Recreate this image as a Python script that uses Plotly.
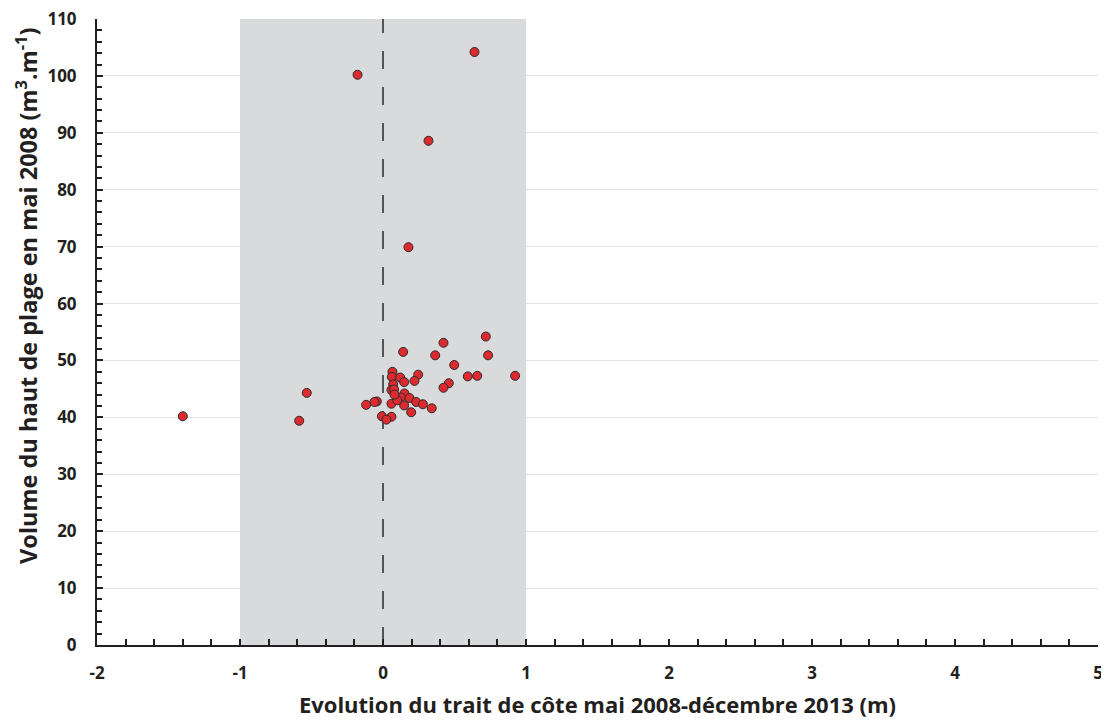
import plotly.graph_objects as go

# évolution du trait de côte (m) et volume du haut de plage (m3/m)
evolution = [
    -1.40, -0.586, -0.533, -0.178, 0.64, 0.318, 0.178,
    0.719, 0.423, 0.141, 0.365, 0.735, 0.498, 0.066, 0.062, 0.120, 0.246,
    0.220, 0.148, 0.593, 0.659, 0.924, 0.071, 0.460, 0.423, 0.059, 0.078,
    0.150, 0.125, 0.185, 0.232, 0.279, 0.341, 0.148, 0.197, 0.059, -0.043,
    -0.060, -0.118, -0.008, 0.059, 0.024, 0.100, 0.080,
]
volume = [
    40.2, 39.4, 44.3, 100.2, 104.2, 88.6, 69.9,
    54.2, 53.1, 51.5, 50.9, 50.9, 49.2, 48.0, 47.1, 47.0, 47.5,
    46.4, 46.2, 47.2, 47.3, 47.3, 45.8, 46.0, 45.2, 44.8, 44.9,
    44.2, 43.5, 43.4, 42.7, 42.3, 41.6, 42.1, 40.9, 42.4, 42.8,
    42.7, 42.2, 40.2, 40.1, 39.6, 43.0, 44.0,
]

x_ticks = [-2, -1, 0, 1, 2, 3, 4, 5]
y_ticks = [0, 10, 20, 30, 40, 50, 60, 70, 80, 90, 100, 110]

police = "Open Sans"
noir = "#231f20"

fig = go.Figure()

fig.add_trace(go.Scatter(
    x=evolution, y=volume, mode="markers",
    marker=dict(size=9, color="#dc2a2e", line=dict(color="#2b2b2b", width=1)),
    showlegend=False,
))

# zone grisée entre -1 et 1 m
fig.add_shape(type="rect", x0=-1, x1=1, y0=0, y1=110, xref="x", yref="y",
              fillcolor="#d9dadc", line_width=0, layer="between")
# ligne pointillée à 0
fig.add_shape(type="line", x0=0, x1=0, y0=0, y1=110, xref="x", yref="y",
              line=dict(color="#333333", width=1.6, dash="18px,18px"), layer="between")

# titre de l'axe y (un peu décalé vers le haut comme dans l'original)
fig.add_annotation(
    text="Volume du haut de plage en mai 2008 (m<sup>3</sup>.m<sup>-1</sup>)",
    xref="paper", yref="paper", x=-0.071, y=0.5575, textangle=-90,
    xanchor="center", yanchor="middle", showarrow=False,
    font=dict(size=23.5, family=police, weight="bold", color=noir),
)

# la page html ajoute 8 px de marge autour de la figure
fig.update_layout(
    width=1101, height=712,
    margin=dict(l=89, r=11, t=11, b=75),
    plot_bgcolor="white", paper_bgcolor="white",
    font=dict(family=police, color=noir),
)

fig.update_xaxes(
    range=[-2, 5], tickvals=x_ticks, ticktext=[str(v) for v in x_ticks],
    showgrid=False, zeroline=False, automargin=False, ticklabeloverflow="allow",
    showline=True, linecolor=noir, linewidth=2,
    ticks="inside", ticklen=6, tickwidth=2, tickcolor=noir,
    minor=dict(ticks="inside", ticklen=6, tickwidth=2, tickcolor=noir, dtick=0.2, showgrid=False),
    tickfont=dict(size=17, family=police, weight="bold", color=noir),
    ticklabelstandoff=12,
    title=dict(text="Evolution du trait de côte mai 2008-décembre 2013 (m)",
               font=dict(size=22, family=police, weight="bold", color=noir), standoff=14),
)

fig.update_yaxes(
    range=[0, 110], tickvals=y_ticks,
    showgrid=True, gridcolor="#e3e3e3", gridwidth=1.2, zeroline=False, automargin=False,
    ticklabeloverflow="allow",
    showline=True, linecolor=noir, linewidth=2,
    ticks="inside", ticklen=6, tickwidth=2, tickcolor=noir,
    minor=dict(ticks="inside", ticklen=5, tickwidth=2, tickcolor=noir, dtick=2, showgrid=False),
    tickfont=dict(size=17, family=police, weight="bold", color=noir),
    ticklabelstandoff=15,
)

fig.write_html("out.html")
